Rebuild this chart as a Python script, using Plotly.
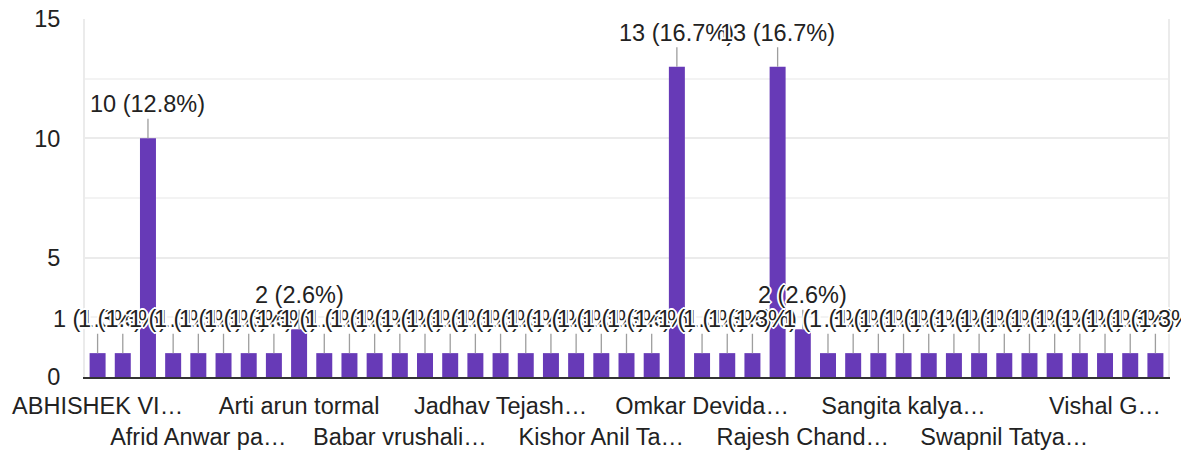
import plotly.graph_objects as go

# 43 respondents (alphabetical); only every 4th label is legible in the reference
shown_labels = {
    0: "ABHISHEK VI…", 4: "Afrid Anwar pa…", 8: "Arti arun tormal",
    12: "Babar vrushali…", 16: "Jadhav Tejash…", 20: "Kishor Anil Ta…",
    24: "Omkar Devida…", 28: "Rajesh Chand…", 32: "Sangita kalya…",
    36: "Swapnil Tatya…", 40: "Vishal G…",
}
categories = [shown_labels.get(i, f"Name {i+1:02d}") for i in range(43)]

counts = [1, 1, 10, 1, 1, 1, 1, 1, 2, 1,
          1, 1, 1, 1, 1, 1, 1, 1, 1, 1,
          1, 1, 1, 13, 1, 1, 1, 13, 2, 1,
          1, 1, 1, 1, 1, 1, 1, 1, 1, 1,
          1, 1, 1]

total = sum(counts)
FONT = "Arial, Liberation Sans, sans-serif"
FS = 23.5
TXT = "#222222"
PURPLE = "#673ab7"
GRID = "#ebebeb"

fig = go.Figure(go.Bar(
    x=categories, y=counts, marker_color=PURPLE, marker_line_width=0,
    hoverinfo="skip",
))

halo = ("2px 0 0 #fff, -2px 0 0 #fff, 0 2px 0 #fff, 0 -2px 0 #fff, "
        "1px 1px 0 #fff, -1px -1px 0 #fff, 1px -1px 0 #fff, -1px 1px 0 #fff")

for c, v in zip(categories, counts):
    fig.add_annotation(
        x=c, y=v, xref="x", yref="y",
        text=f"{v} ({100 * v / total:.1f}%)",
        showarrow=True, arrowhead=0, arrowwidth=1.3, arrowcolor="#9e9e9e",
        ax=0, ay=-34, standoff=0,
        font=dict(family=FONT, size=FS, color=TXT, shadow=halo),
    )

tickvals = [categories[i] for i in sorted(shown_labels)]
ticktext = [(shown_labels[i] if k % 2 == 0 else "<br>" + shown_labels[i])
            for k, i in enumerate(sorted(shown_labels))]

fig.update_layout(
    width=1181, height=453,
    margin=dict(l=85, r=13, t=19, b=76),
    paper_bgcolor="white", plot_bgcolor="white",
    font=dict(family=FONT, size=FS, color=TXT),
    bargap=0.365, showlegend=False,
    xaxis=dict(
        type="category", tickmode="array", tickvals=tickvals, ticktext=ticktext,
        range=[-0.5, len(categories) - 0.5], autorange=False,
        tickangle=0, showgrid=False, showline=True, linecolor="#333333",
        linewidth=2, ticks="outside", ticklen=7, tickcolor="rgba(0,0,0,0)",
        tickfont=dict(size=FS, color=TXT), automargin=False,
    ),
    yaxis=dict(
        range=[0, 15], autorange=False, tickvals=[0, 5, 10, 15],
        showgrid=True, gridcolor=GRID,
        gridwidth=2, zeroline=False, showline=True, linecolor=GRID,
        linewidth=2, mirror=True, ticks="outside", ticklen=18,
        tickcolor="rgba(0,0,0,0)", tickfont=dict(size=FS, color=TXT),
        minor=dict(dtick=2.5, tick0=0, showgrid=True, gridcolor="#f3f3f3",
                   gridwidth=2),
        automargin=False,
    ),
)

fig.write_html("out.html", config={"displayModeBar": False},
               post_script="document.body.style.margin='0';")
